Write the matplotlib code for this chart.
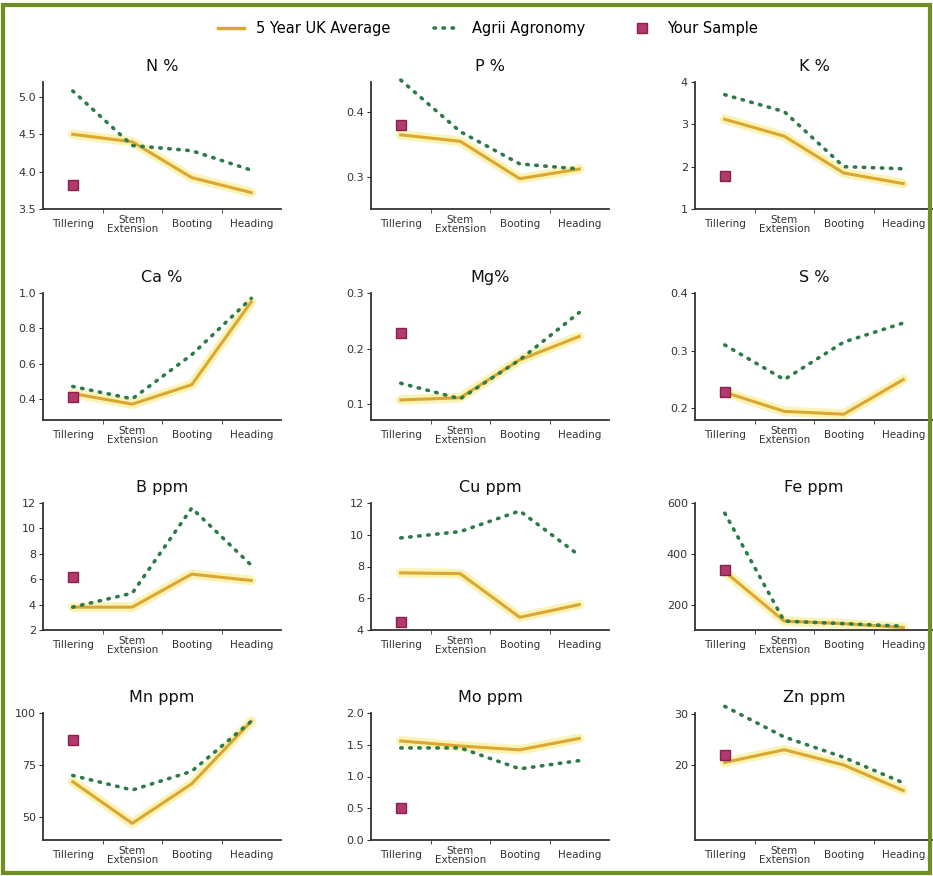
import matplotlib
matplotlib.use("Agg")
import matplotlib.pyplot as plt
from matplotlib.lines import Line2D
from matplotlib.patches import Rectangle

# stages on the x axis
stages = ["Tillering", "Stem\nExtension", "Booting", "Heading"]

titles = ["N %", "P %", "K %", "Ca %", "Mg%", "S %",
          "B ppm", "Cu ppm", "Fe ppm", "Mn ppm", "Mo ppm", "Zn ppm"]

# 5 year UK average
uk_avg = [
    [4.50, 4.40, 3.92, 3.72],
    [0.365, 0.355, 0.297, 0.312],
    [3.12, 2.72, 1.85, 1.60],
    [0.43, 0.37, 0.48, 0.95],
    [0.108, 0.112, 0.180, 0.222],
    [0.228, 0.195, 0.190, 0.250],
    [3.8, 3.8, 6.4, 5.9],
    [7.6, 7.55, 4.8, 5.6],
    [330, 135, 125, 110],
    [67, 47, 66, 96],
    [1.56, 1.48, 1.42, 1.60],
    [20.5, 23.0, 20.0, 15.0],
]

# Agrii agronomy
agrii = [
    [5.08, 4.35, 4.28, 4.02],
    [0.450, 0.370, 0.320, 0.312],
    [3.70, 3.30, 2.00, 1.95],
    [0.47, 0.40, 0.65, 0.97],
    [0.138, 0.110, 0.180, 0.265],
    [0.310, 0.250, 0.315, 0.348],
    [3.8, 4.9, 11.6, 7.1],
    [9.8, 10.2, 11.5, 8.7],
    [560, 135, 125, 115],
    [70, 63, 72, 96],
    [1.45, 1.45, 1.12, 1.25],
    [31.5, 25.5, 21.5, 16.5],
]

# your sample (tillering only)
sample = [3.82, 0.380, 1.78, 0.41, 0.228, 0.228, 6.2, 4.5, 335, 87, 0.5, 22.0]

ylims = [(3.5, 5.2), (0.25, 0.447), (1, 4), (0.28, 1.0), (0.072, 0.3), (0.18, 0.4),
         (2, 12), (4, 12), (100, 600), (39, 100), (0, 2), (5.3, 30.2)]
yticks = [[3.5, 4.0, 4.5, 5.0], [0.3, 0.4], [1, 2, 3, 4], [0.4, 0.6, 0.8, 1.0],
          [0.1, 0.2, 0.3], [0.2, 0.3, 0.4], [2, 4, 6, 8, 10, 12], [4, 6, 8, 10, 12],
          [200, 400, 600], [50, 75, 100], [0.0, 0.5, 1.0, 1.5, 2.0], [20, 30]]
yfmt = ["%.1f", "%.1f", "%d", "%.1f", "%.1f", "%.1f", "%d", "%d", "%d", "%d", "%.1f", "%d"]

gold = "#dba730"
glow = "#f7ec8a"
green = "#2f7a4a"
red = "#b23a6c"
axc = "#333333"
dots = (0, (0.4, 2.1))

W, H = 933, 876
fig = plt.figure(figsize=(W / 100, H / 100), dpi=100)
fig.patch.set_facecolor("white")

# olive frame
fig.patches.append(Rectangle((3 / W, 3 / H), 1 - 6 / W, 1 - 8 / H, transform=fig.transFigure,
                             fill=False, edgecolor="#6e8f22", linewidth=3))

lefts = [43, 371, 695]
tops = [82, 293, 503, 713]
aw, ah = 238, 127

for i in range(12):
    r, c = divmod(i, 3)
    ax = fig.add_axes([lefts[c] / W, 1 - (tops[r] + ah) / H, aw / W, ah / H])
    x = range(4)
    ax.plot(x, uk_avg[i], color=glow, lw=7, alpha=0.6, solid_capstyle="round", zorder=1, clip_on=False)
    ax.plot(x, uk_avg[i], color=gold, lw=2.2, zorder=2, clip_on=False)
    ax.plot(x, agrii[i], color=green, lw=2.6, linestyle=dots,
            dash_capstyle="round", zorder=3, clip_on=False)
    ax.plot([0], [sample[i]], marker="s", ms=6.5, color=red, mec="#8a1e4c", mew=1, zorder=4)
    ax.set_xlim(-0.5, 3.5)
    ax.set_ylim(*ylims[i])
    ax.set_yticks(yticks[i])
    ax.set_yticklabels([yfmt[i] % v for v in yticks[i]])
    ax.set_xticks(range(4))
    ax.set_xticklabels(stages, linespacing=0.85, va="center")
    ax.set_xticks([0.5, 1.5, 2.5], minor=True)
    ax.tick_params(axis="x", which="major", length=0, labelsize=7.5, colors=axc, pad=11)
    ax.tick_params(axis="x", which="minor", length=3, colors=axc)
    ax.tick_params(axis="y", length=3, labelsize=8, colors=axc, pad=2)
    for s in ["top", "right"]:
        ax.spines[s].set_visible(False)
    for s in ["left", "bottom"]:
        ax.spines[s].set_color(axc)
        ax.spines[s].set_linewidth(1.3)
    ax.set_facecolor("none")
    ax.set_title(titles[i], fontsize=11.5, color="#111111", pad=8)

handles = [
    Line2D([], [], color=gold, lw=2.5),
    Line2D([], [], color=green, lw=2.6, linestyle=dots, dash_capstyle="round"),
    Line2D([], [], color=red, marker="s", ms=6.5, lw=0, mec="#8a1e4c"),
]
fig.legend(handles, ["5 Year UK Average", "Agrii Agronomy", "Your Sample"],
           loc="center", bbox_to_anchor=(488 / W, 1 - 29 / H), ncol=3, frameon=False,
           fontsize=10.5, handlelength=1.8, columnspacing=3.0)

fig.savefig("out.png", dpi=100)
